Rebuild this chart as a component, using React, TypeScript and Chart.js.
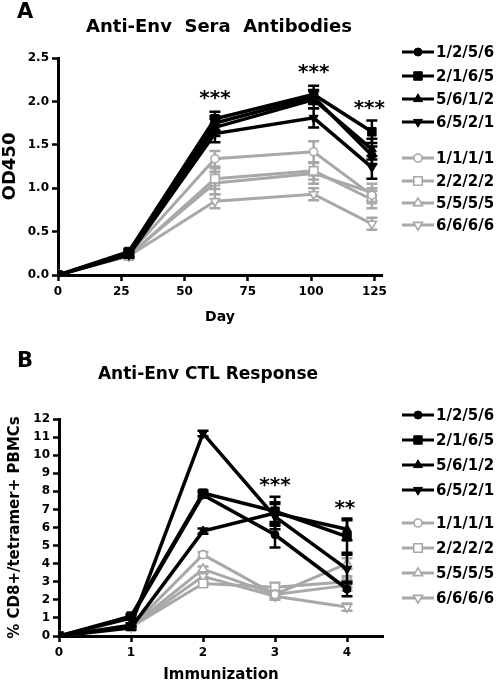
import React, { useEffect, useRef } from 'react';
import { Chart, registerables } from 'chart.js';
import { drawPoint } from 'chart.js/helpers';

Chart.register(...registerables);

const FONT = '"DejaVu Sans", "Liberation Sans", sans-serif';
const BLACK = '#000000';
const GRAY = '#a8a8a8';

// ---------- shared ----------
const seriesLabels = ['1/2/5/6', '2/1/6/5', '5/6/1/2', '6/5/2/1', '1/1/1/1', '2/2/2/2', '5/5/5/5', '6/6/6/6'];

// ---------- Panel A: Anti-Env Sera Antibodies ----------
const daysA = [0, 28, 62, 101, 124];
const dayTicksA = [0, 25, 50, 75, 100, 125];
const odTicksA = [0, 0.5, 1.0, 1.5, 2.0, 2.5];

const a1256 = [0, 0.25, 1.75, 2.05, 1.38];
const a2165 = [0, 0.27, 1.80, 2.08, 1.65];
const a5612 = [0, 0.24, 1.70, 2.02, 1.45];
const a6521 = [0, 0.23, 1.63, 1.81, 1.24];
const a1111 = [0, 0.24, 1.34, 1.42, 0.92];
const a2222 = [0, 0.22, 1.11, 1.20, 0.87];
const a5555 = [0, 0.23, 1.06, 1.17, 0.95];
const a6666 = [0, 0.22, 0.85, 0.93, 0.59];

const ea1256 = [0, 0.03, 0.08, 0.08, 0.10];
const ea2165 = [0, 0.03, 0.08, 0.10, 0.13];
const ea5612 = [0, 0.03, 0.10, 0.10, 0.12];
const ea6521 = [0, 0.03, 0.10, 0.11, 0.13];
const ea1111 = [0, 0.03, 0.09, 0.12, 0.08];
const ea2222 = [0, 0.03, 0.12, 0.10, 0.10];
const ea5555 = [0, 0.03, 0.13, 0.12, 0.10];
const ea6666 = [0, 0.03, 0.08, 0.07, 0.07];

const starTextA = ['***', '***', '***'];
const starXA = [62, 101, 123];
const starYA = [2.10, 2.40, 1.98];

// ---------- Panel B: Anti-Env CTL Response ----------
const immunB = [0, 1, 2, 3, 4];
const immunTicksB = [0, 1, 2, 3, 4];
const pctTicksB = [0, 1, 2, 3, 4, 5, 6, 7, 8, 9, 10, 11, 12];

const b1256 = [0, 1.0, 7.8, 5.6, 2.6];
const b2165 = [0, 1.1, 7.9, 6.9, 5.5];
const b5612 = [0, 0.45, 5.8, 6.8, 5.9];
const b6521 = [0, 0.6, 11.2, 6.6, 3.7];
const b1111 = [0, 0.5, 4.5, 2.3, 2.8];
const b2222 = [0, 0.5, 2.9, 2.7, 3.0];
const b5555 = [0, 0.5, 3.7, 2.3, 4.0];
const b6666 = [0, 0.5, 3.3, 2.2, 1.6];

const eb1256 = [0, 0.1, 0.15, 0.7, 0.4];
const eb2165 = [0, 0.1, 0.15, 0.8, 0.9];
const eb5612 = [0, 0.1, 0.15, 0.6, 0.6];
const eb6521 = [0, 0.1, 0.15, 0.7, 0.8];
const eb1111 = [0, 0.05, 0.15, 0.2, 0.3];
const eb2222 = [0, 0.05, 0.15, 0.25, 0.3];
const eb5555 = [0, 0.05, 0.15, 0.2, 0.3];
const eb6666 = [0, 0.05, 0.15, 0.2, 0.2];

const starTextB = ['***', '**'];
const starXB = [3, 3.97];
const starYB = [8.63, 7.36];

// ---------- styles ----------
const pointStyles = ['circle', 'rect', 'triangle', 'triangle'];
const pointRotations = [0, 0, 0, 180];
const pointRadii = [4, 6, 5.2, 5.2];

function makeDatasets(xs: number[], values: number[][], errors: number[][]) {
  return values.map((vals, i) => {
    const isBlack = i < 4;
    const k = i % 4;
    const color = isBlack ? BLACK : GRAY;
    return {
      label: seriesLabels[i],
      data: xs.map((x, j) => ({ x, y: vals[j] })),
      errors: errors[i],
      borderColor: color,
      backgroundColor: color,
      borderWidth: isBlack ? 3.5 : 3,
      pointStyle: pointStyles[k],
      pointRotation: pointRotations[k],
      pointRadius: pointRadii[k],
      pointBackgroundColor: isBlack ? BLACK : '#ffffff',
      pointBorderColor: color,
      pointBorderWidth: isBlack ? 1 : 1.6,
      tension: 0,
      fill: false,
    };
  });
}

const errorBarPlugin = {
  id: 'errorBars',
  beforeDatasetDraw(chart: any, args: any) {
    const ds: any = chart.data.datasets[args.index];
    const errs: number[] = ds.errors;
    if (!errs) return;
    const yScale = chart.scales.y;
    const ctx = chart.ctx;
    ctx.save();
    ctx.strokeStyle = ds.borderColor;
    ctx.lineWidth = 2.5;
    args.meta.data.forEach((pt: any, j: number) => {
      const e = errs[j];
      if (!e) return;
      const v = ds.data[j].y;
      const top = yScale.getPixelForValue(v + e);
      const bot = yScale.getPixelForValue(v - e);
      const x = pt.x;
      ctx.beginPath();
      ctx.moveTo(x, top);
      ctx.lineTo(x, bot);
      ctx.moveTo(x - 5.5, top);
      ctx.lineTo(x + 5.5, top);
      ctx.moveTo(x - 5.5, bot);
      ctx.lineTo(x + 5.5, bot);
      ctx.stroke();
    });
    ctx.restore();
  },
};

interface DecorCfg {
  letter: string;
  letterX: number;
  letterY: number;
  title: string;
  titleX: number;
  titleY: number;
  titleSize: number;
  starText: string[];
  starX: number[];
  starY: number[];
  legendRows: number[];
}

function decorPlugin(cfg: DecorCfg) {
  return {
    id: 'decor' + cfg.letter,
    afterDraw(chart: any) {
      const ctx = chart.ctx;
      ctx.save();
      ctx.fillStyle = '#000';
      ctx.textBaseline = 'middle';
      ctx.textAlign = 'left';
      ctx.font = `bold 21px ${FONT}`;
      ctx.fillText(cfg.letter, cfg.letterX, cfg.letterY);
      ctx.font = `bold ${cfg.titleSize}px ${FONT}`;
      ctx.textAlign = 'center';
      ctx.fillText(cfg.title, cfg.titleX, cfg.titleY);

      ctx.font = `bold 20px ${FONT}`;
      ctx.textBaseline = 'alphabetic';
      cfg.starText.forEach((t, i) => {
        const x = chart.scales.x.getPixelForValue(cfg.starX[i]);
        const y = chart.scales.y.getPixelForValue(cfg.starY[i]);
        ctx.fillText(t, x, y + 11);
      });

      chart.data.datasets.forEach((ds: any, i: number) => {
        const y = cfg.legendRows[i];
        ctx.strokeStyle = ds.borderColor;
        ctx.lineWidth = 3;
        ctx.beginPath();
        ctx.moveTo(402, y);
        ctx.lineTo(434, y);
        ctx.stroke();
        ctx.fillStyle = ds.pointBackgroundColor;
        ctx.strokeStyle = ds.pointBorderColor;
        ctx.lineWidth = ds.pointBorderWidth;
        drawPoint(
          ctx,
          { pointStyle: ds.pointStyle, rotation: ds.pointRotation, radius: ds.pointRadius, borderWidth: ds.pointBorderWidth },
          418,
          y
        );
        ctx.fillStyle = '#000';
        ctx.font = `bold 15px ${FONT}`;
        ctx.textAlign = 'left';
        ctx.textBaseline = 'middle';
        ctx.fillText(ds.label, 436, y + 1);
      });
      ctx.restore();
    },
  };
}

interface PanelCfg {
  datasets: any[];
  xMin: number;
  xMax: number;
  xTicks: number[];
  yMin: number;
  yMax: number;
  yTicks: number[];
  yFmt: (v: number) => string;
  padTop: number;
  padRight: number;
  yAxisWidth: number;
  xAxisHeight: number;
  xTitle: string;
  xTitleSize: number;
  xTitlePadBottom: number;
  yTitle: string;
  yTitleSize: number;
  yTitlePadTop: number;
  decor: DecorCfg;
}

function buildConfig(p: PanelCfg): any {
  const tickFont = { family: FONT, size: 12, weight: 'bold' as const };
  const grid = {
    display: true,
    drawOnChartArea: false,
    drawTicks: true,
    tickLength: 6,
    tickWidth: 2.5,
    tickColor: '#000',
    color: '#000',
  };
  const border = { display: true, color: '#000', width: 3 };
  return {
    type: 'line',
    data: { datasets: p.datasets },
    options: {
      responsive: false,
      animation: false,
      events: [],
      layout: { padding: { top: p.padTop, right: p.padRight, left: 0, bottom: 0 } },
      plugins: { legend: { display: false }, tooltip: { enabled: false }, title: { display: false } },
      scales: {
        x: {
          type: 'linear',
          min: p.xMin,
          max: p.xMax,
          afterBuildTicks: (axis: any) => {
            axis.ticks = p.xTicks.map((v) => ({ value: v }));
          },
          afterFit: (axis: any) => {
            axis.height = p.xAxisHeight;
          },
          ticks: { font: tickFont, color: '#000', padding: 4, autoSkip: false, maxRotation: 0, callback: (v: any) => String(v) },
          grid,
          border,
          title: {
            display: true,
            text: p.xTitle,
            color: '#000',
            font: { family: FONT, size: p.xTitleSize, weight: 'bold' },
            padding: { top: 0, bottom: p.xTitlePadBottom },
          },
        },
        y: {
          type: 'linear',
          min: p.yMin,
          max: p.yMax,
          afterBuildTicks: (axis: any) => {
            axis.ticks = p.yTicks.map((v) => ({ value: v }));
          },
          afterFit: (axis: any) => {
            axis.width = p.yAxisWidth;
          },
          ticks: { font: tickFont, color: '#000', padding: 3, autoSkip: false, callback: (v: any) => p.yFmt(Number(v)) },
          grid,
          border,
          title: {
            display: true,
            text: p.yTitle,
            color: '#000',
            font: { family: FONT, size: p.yTitleSize, weight: 'bold' },
            padding: { top: p.yTitlePadTop, bottom: 0 },
          },
        },
      },
    },
    plugins: [errorBarPlugin, decorPlugin(p.decor)],
  };
}

const panelA: PanelCfg = {
  datasets: makeDatasets(
    daysA,
    [a1256, a2165, a5612, a6521, a1111, a2222, a5555, a6666],
    [ea1256, ea2165, ea5612, ea6521, ea1111, ea2222, ea5555, ea6666]
  ),
  xMin: 0,
  xMax: 128,
  xTicks: dayTicksA,
  yMin: 0,
  yMax: 2.5,
  yTicks: odTicksA,
  yFmt: (v) => v.toFixed(1),
  padTop: 58,
  padRight: 116,
  yAxisWidth: 58,
  xAxisHeight: 68,
  xTitle: 'Day',
  xTitleSize: 14,
  xTitlePadBottom: 17,
  yTitle: 'OD450',
  yTitleSize: 18,
  yTitlePadTop: 0,
  decor: {
    letter: 'A',
    letterX: 17,
    letterY: 13,
    title: 'Anti-Env  Sera  Antibodies',
    titleX: 219,
    titleY: 27,
    titleSize: 18,
    starText: starTextA,
    starX: starXA,
    starY: starYA,
    legendRows: [52, 76, 99, 122, 158, 181, 203, 225],
  },
};

const panelB: PanelCfg = {
  datasets: makeDatasets(
    immunB,
    [b1256, b2165, b5612, b6521, b1111, b2222, b5555, b6666],
    [eb1256, eb2165, eb5612, eb6521, eb1111, eb2222, eb5555, eb6666]
  ),
  xMin: 0,
  xMax: 4.5,
  xTicks: immunTicksB,
  yMin: 0,
  yMax: 12,
  yTicks: pctTicksB,
  yFmt: (v) => String(Math.round(v)),
  padTop: 76,
  padRight: 115,
  yAxisWidth: 59,
  xAxisHeight: 50,
  xTitle: 'Immunization',
  xTitleSize: 15,
  xTitlePadBottom: 2,
  yTitle: '% CD8+/tetramer+ PBMCs',
  yTitleSize: 15,
  yTitlePadTop: 6,
  decor: {
    letter: 'B',
    letterX: 17,
    letterY: 19,
    title: 'Anti-Env CTL Response',
    titleX: 208,
    titleY: 32,
    titleSize: 17,
    starText: starTextB,
    starX: starXB,
    starY: starYB,
    legendRows: [72, 97, 122, 147, 180, 205, 230, 255],
  },
};

function Panel({ cfg, top }: { cfg: PanelCfg; top: number }) {
  const ref = useRef<HTMLCanvasElement>(null);
  useEffect(() => {
    const chart = new Chart(ref.current as HTMLCanvasElement, buildConfig(cfg));
    return () => chart.destroy();
  }, [cfg]);
  return (
    <canvas
      ref={ref}
      width={498}
      height={343}
      style={{ position: 'absolute', left: 0, top, width: 498, height: 343, display: 'block' }}
    />
  );
}

export default function App() {
  return (
    <div style={{ position: 'absolute', left: 0, top: 0, width: 498, height: 686, background: '#ffffff', overflow: 'hidden' }}>
      <Panel cfg={panelA} top={0} />
      <Panel cfg={panelB} top={343} />
    </div>
  );
}
